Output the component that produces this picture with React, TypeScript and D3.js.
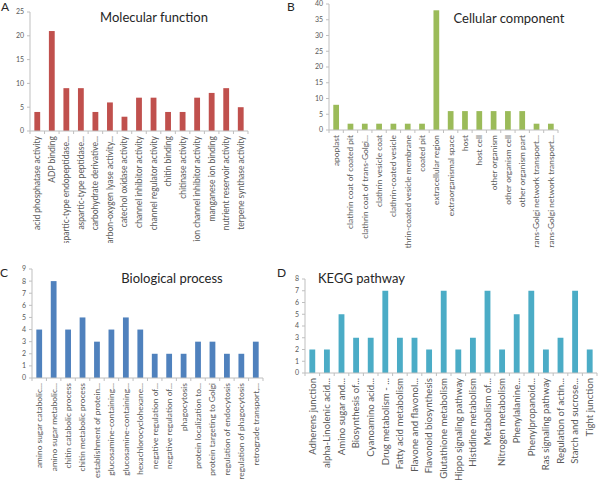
import React from "react";
import * as d3 from "d3";

const A_CATS = [
  "acid phosphatase activity",
  "ADP binding",
  "aspartic-type endopeptidase...",
  "aspartic-type peptidase...",
  "carbohydrate derivative...",
  "carbon-oxygen lyase activity...",
  "catechol oxidase activity",
  "channel inhibitor activity",
  "channel regulator activity",
  "chitin binding",
  "chitinase activity",
  "ion channel inhibitor activity",
  "manganese ion binding",
  "nutrient reservoir activity",
  "terpene synthase activity",
];
const A_VALUES = [4, 21, 9, 9, 4, 6, 3, 7, 7, 4, 4, 7, 8, 9, 5];
const A_TICKS = [0, 5, 10, 15, 20, 25];

const B_CATS = [
  "apoplast",
  "clathrin coat of coated pit",
  "clathrin coat of trans-Golgi...",
  "clathrin vesicle coat",
  "clathrin-coated vesicle",
  "clathrin-coated vesicle membrane",
  "coated pit",
  "extracellular region",
  "extraorganismal space",
  "host",
  "host cell",
  "other organism",
  "other organism cell",
  "other organism part",
  "trans-Golgi network transport...",
  "trans-Golgi network transport...",
];
const B_VALUES = [8, 2, 2, 2, 2, 2, 2, 38, 6, 6, 6, 6, 6, 6, 2, 2];
const B_TICKS = [0, 5, 10, 15, 20, 25, 30, 35, 40];

const C_CATS = [
  "amino sugar catabolic...",
  "amino sugar metabolic...",
  "chitin catabolic process",
  "chitin metabolic process",
  "establishment of protein...",
  "glucosamine-containing...",
  "glucosamine-containing...",
  "hexachlorocyclohexane...",
  "negative regulation of...",
  "negative regulation of...",
  "phagocytosis",
  "protein localization to...",
  "protein targeting to Golgi",
  "regulation of endocytosis",
  "regulation of phagocytosis",
  "retrograde transport,...",
];
const C_VALUES = [4, 8, 4, 5, 3, 4, 5, 4, 2, 2, 2, 3, 3, 2, 2, 3];
const C_TICKS = [0, 1, 2, 3, 4, 5, 6, 7, 8, 9];

const D_CATS = [
  "Adherens junction",
  "alpha-Linolenic acid...",
  "Amino sugar and...",
  "Biosynthesis of...",
  "Cyanoamino acid...",
  "Drug metabolism - ...",
  "Fatty acid metabolism",
  "Flavone and flavonol...",
  "Flavonoid biosynthesis",
  "Glutathione metabolism",
  "Hippo signaling pathway",
  "Histidine metabolism",
  "Metabolism of...",
  "Nitrogen metabolism",
  "Phenylalanine...",
  "Phenylpropanoid...",
  "Ras signaling pathway",
  "Regulation of actin...",
  "Starch and sucrose...",
  "Tight junction",
];
const D_VALUES = [2, 2, 5, 3, 3, 7, 3, 3, 2, 7, 2, 3, 7, 2, 5, 7, 2, 3, 7, 2];
const D_TICKS = [0, 1, 2, 3, 4, 5, 6, 7, 8];

const FONT = "Lato, 'Liberation Sans', sans-serif";
const AXIS = "#bfbfbf";
const TXT = "#595959";

type PanelProps = {
  id: string;
  letter: string;
  letterX: number;
  letterY: number;
  title: string;
  titleX: number;
  titleY: number;
  titleAnchor: string;
  cats: string[];
  values: number[];
  ticks: number[];
  color: string;
  x0: number;
  x1: number;
  yBase: number;
  yTop: number;
  labelSize: number;
  clip: [number, number, number, number];
};

function Panel(p: PanelProps) {
  const x = d3
    .scaleBand<number>()
    .domain(p.cats.map((_, i) => i))
    .range([p.x0, p.x1])
    .paddingInner(0.6)
    .paddingOuter(0.3);
  const max = p.ticks[p.ticks.length - 1];
  const y = d3.scaleLinear().domain([0, max]).range([p.yBase, p.yTop]);
  const step = x.step();
  const bounds = d3.range(p.cats.length + 1).map((i) => p.x0 + i * step);
  return (
    <g>
      <defs>
        <clipPath id={"clip-" + p.id}>
          <rect x={p.clip[0]} y={p.clip[1]} width={p.clip[2]} height={p.clip[3]} />
        </clipPath>
      </defs>
      <g clipPath={`url(#clip-${p.id})`}>
        {p.values.map((v, i) => (
          <rect
            key={i}
            x={x(i)}
            y={y(v)}
            width={x.bandwidth()}
            height={p.yBase - y(v)}
            fill={p.color}
          />
        ))}
        <line x1={p.x0} x2={p.x0} y1={p.yTop} y2={p.yBase} stroke={AXIS} strokeWidth={1} />
        {p.ticks.map((t) => (
          <g key={t}>
            <line x1={p.x0 - 3} x2={p.x0} y1={y(t)} y2={y(t)} stroke={AXIS} />
            <text
              x={p.x0 - 6}
              y={y(t)}
              dy="0.35em"
              textAnchor="end"
              fontSize={7}
              fill={TXT}
              fontFamily={FONT}
            >
              {t}
            </text>
          </g>
        ))}
        <line x1={p.x0} x2={p.x1} y1={p.yBase} y2={p.yBase} stroke={AXIS} />
        {bounds.map((b, i) => (
          <line key={i} x1={b} x2={b} y1={p.yBase} y2={p.yBase + 3} stroke={AXIS} />
        ))}
        {p.cats.map((c, i) => {
          const cx = (x(i) as number) + x.bandwidth() / 2;
          const ly = p.yBase + 5;
          return (
            <text
              key={i}
              transform={`translate(${cx},${ly}) rotate(-90)`}
              textAnchor="end"
              dy="0.35em"
              fontSize={p.labelSize}
              fill={TXT}
              fontFamily={FONT}
            >
              {c}
            </text>
          );
        })}
      </g>
      <text x={p.titleX} y={p.titleY} textAnchor={p.titleAnchor} fontSize={13} fill="#262626" fontFamily={FONT}>
        {p.title}
      </text>
      <text x={p.letterX} y={p.letterY} fontSize={12} fill="#262626" fontFamily={FONT}>
        {p.letter}
      </text>
    </g>
  );
}

export default function App() {
  return (
    <svg
      width={600}
      height={480}
      style={{ position: "absolute", left: 0, top: 0, background: "#fff" }}
    >
      <rect x={0} y={0} width={600} height={480} fill="#fff" />
      <Panel
        id="a"
        letter="A"
        letterX={1}
        letterY={11}
        title="Molecular function"
        titleX={154}
        titleY={22}
        titleAnchor="middle"
        cats={A_CATS}
        values={A_VALUES}
        ticks={A_TICKS}
        color="#c0504d"
        x0={30}
        x1={248}
        yBase={131}
        yTop={12}
        labelSize={8.5}
        clip={[0, 0, 290, 243]}
      />
      <Panel
        id="b"
        letter="B"
        letterX={287}
        letterY={11}
        title="Cellular component"
        titleX={509}
        titleY={23}
        titleAnchor="middle"
        cats={B_CATS}
        values={B_VALUES}
        ticks={B_TICKS}
        color="#9bbb59"
        x0={329}
        x1={558}
        yBase={130}
        yTop={4}
        labelSize={8.4}
        clip={[290, 0, 310, 248]}
      />
      <Panel
        id="c"
        letter="C"
        letterX={0}
        letterY={277}
        title="Biological process"
        titleX={172}
        titleY={283}
        titleAnchor="middle"
        cats={C_CATS}
        values={C_VALUES}
        ticks={C_TICKS}
        color="#4f81bd"
        x0={32}
        x1={263}
        yBase={378}
        yTop={269}
        labelSize={8.4}
        clip={[0, 250, 290, 230]}
      />
      <Panel
        id="d"
        letter="D"
        letterX={277}
        letterY={277}
        title="KEGG pathway"
        titleX={318}
        titleY={283}
        titleAnchor="start"
        cats={D_CATS}
        values={D_VALUES}
        ticks={D_TICKS}
        color="#4bacc6"
        x0={305}
        x1={597}
        yBase={373}
        yTop={279}
        labelSize={9.6}
        clip={[290, 250, 310, 230]}
      />
    </svg>
  );
}
